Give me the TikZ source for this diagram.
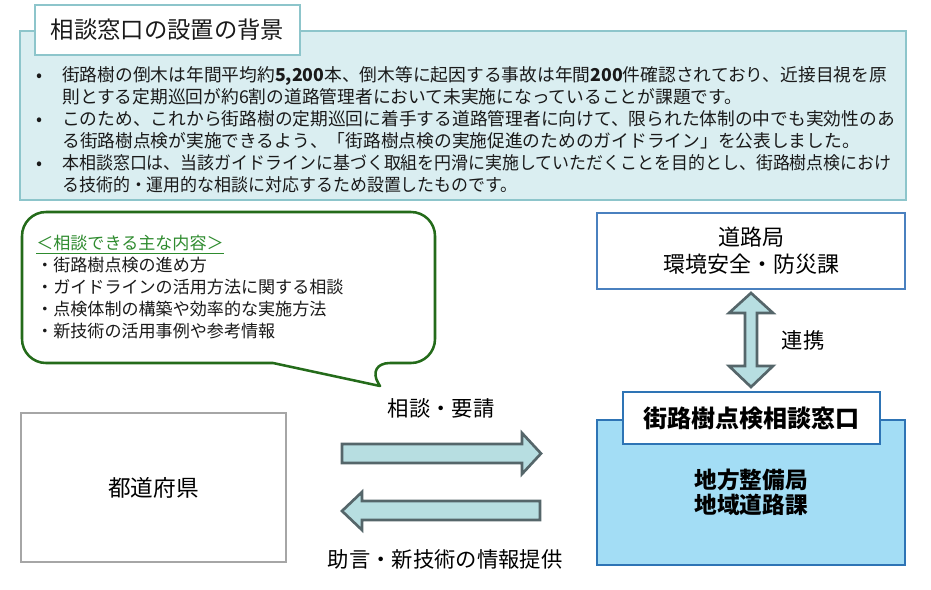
\documentclass[tikz,border=0pt]{standalone}
\usepackage{fontspec}
\setmainfont{Noto Sans CJK JP}
\newfontfamily\narrowjp[FakeStretch=0.955]{Noto Sans CJK JP}
\definecolor{bgfill}{HTML}{DAEEF1}
\definecolor{bgline}{HTML}{8DC5CB}
\definecolor{bubgreen}{HTML}{246B1A}
\definecolor{headgreen}{HTML}{2E8B2E}
\definecolor{boxblue}{HTML}{4A80BF}
\definecolor{deskblue}{HTML}{2E74B5}
\definecolor{skyfill}{HTML}{A3DDF5}
\definecolor{arrfill}{HTML}{B7DEE1}
\definecolor{arrline}{HTML}{55666A}
\definecolor{prefgray}{HTML}{A6A6A6}
\definecolor{inktext}{HTML}{1A1A1A}
\newcommand{\px}{0.75pt}
\newcommand{\bulmark}{\makebox[21pt][l]{\hspace*{2pt}•}}
\newcommand{\bulgap}{\hspace*{21pt}}
\tikzset{
  bgbox/.style={draw=bgline,fill=bgfill,line width=2.2pt,inner sep=0pt},
  titlebox/.style={draw=bgline,fill=white,line width=2pt,inner sep=0pt,font=\fontsize{17.5pt}{20pt}\selectfont,text=inktext},
  bodytxt/.style={inner sep=0pt,align=left,text=inktext,font=\fontsize{13.3pt}{16.5pt}\selectfont},
  bubtxt/.style={inner sep=0pt,align=left,text=inktext,font=\fontsize{12.8pt}{16.5pt}\selectfont},
  bubble/.style={draw=bubgreen,fill=white,line width=1.9pt,line join=round},
  hqbox/.style={draw=boxblue,fill=white,line width=1.9pt,inner sep=0pt,align=center,font=\fontsize{16.5pt}{20pt}\selectfont},
  skybox/.style={draw=deskblue,fill=skyfill,line width=1.9pt,inner sep=0pt,align=center,font=\bfseries\fontsize{17pt}{19pt}\selectfont},
  deskbox/.style={draw=deskblue,fill=white,line width=1.9pt,inner sep=0pt,font=\bfseries\fontsize{18pt}{20pt}\selectfont},
  prefbox/.style={draw=prefgray,fill=white,line width=2pt,inner sep=0pt,font=\fontsize{17pt}{20pt}\selectfont},
  flowlab/.style={inner sep=0pt,font=\fontsize{16pt}{18pt}\selectfont},
  blkarrow/.style={draw=arrline,fill=arrfill,line width=2pt,line join=miter},
}
\begin{document}
\begin{tikzpicture}[x=0.75pt,y=-0.75pt]
  \useasboundingbox (0,0) rectangle (931,589);
  % background of the window
  \node[bgbox,minimum width=886*\px,minimum height=169*\px] (bg) at (463,115.5) {};
  \node[titlebox,minimum width=265*\px,minimum height=50*\px] (title) at (167.5,30) {相談窓口の設置の背景};
  \node[bodytxt,anchor=north west] (bgtext) at (34,66) {%
    \bulmark 街路樹の倒木は年間平均約{\bfseries 5,200}本、倒木等に起因する事故は年間{\bfseries 200}件確認されており、近接目視を原\\
    \bulgap 則とする定期巡回が約6割の道路管理者において未実施になっていることが課題です。\\
    \bulmark このため、これから街路樹の定期巡回に着手する道路管理者に向けて、限られた体制の中でも実効性のあ\\
    \bulgap る街路樹点検が実施できるよう、「街路樹点検の実施促進のためのガイドライン」を公表しました。\\
    \bulmark {\narrowjp 本相談窓口は、当該ガイドラインに基づく取組を円滑に実施していただくことを目的とし、街路樹点検におけ}\\
    \bulgap {\narrowjp る技術的・運用的な相談に対応するため設置したものです。}};
  % speech bubble
  \draw[bubble] (366,363) -- (380,386) -- (273,363) [rounded corners=24*\px] -- (22,363) -- (22,212)
    -- (435,212) -- (435,363) -- cycle;
  \node[bubtxt,anchor=north west] (topics) at (36,235) {%
    {\color{headgreen}\underline{＜相談できる主な内容＞}}\\
    ・街路樹点検の進め方\\
    ・ガイドラインの活用方法に関する相談\\
    ・点検体制の構築や効率的な実施方法\\
    ・新技術の活用事例や参考情報};
  % offices
  \node[hqbox,minimum width=308*\px,minimum height=76*\px] (hq) at (751,251) {道路局\\環境安全・防災課};
  \node[skybox,minimum width=308*\px,minimum height=145*\px] (local) at (751,492.5) {地方整備局\\地域道路課};
  \node[deskbox,minimum width=257*\px,minimum height=52*\px] (desk) at (751.5,418) {街路樹点検相談窓口};
  \node[prefbox,minimum width=265*\px,minimum height=149*\px] (pref) at (153.5,487.5) {都道府県};
  % block arrows
  \draw[blkarrow] (342,444) -- (522,444) -- (522,433) -- (541,453.5) -- (522,474) -- (522,463) -- (342,463) -- cycle;
  \draw[blkarrow] (540,501) -- (362,501) -- (362,492) -- (342,511) -- (362,530) -- (362,520) -- (540,520) -- cycle;
  \draw[blkarrow] (745,313) -- (729,313) -- (751,293) -- (773,313) -- (757,313) -- (757,366) -- (773,366)
    -- (751,387) -- (729,366) -- (745,366) -- cycle;
  \node[flowlab] (req) at (441,408) {相談・要請};
  \node[flowlab] (adv) at (445,559) {助言・新技術の情報提供};
  \node[flowlab] (link) at (803,340) {連携};
\end{tikzpicture}
\end{document}
